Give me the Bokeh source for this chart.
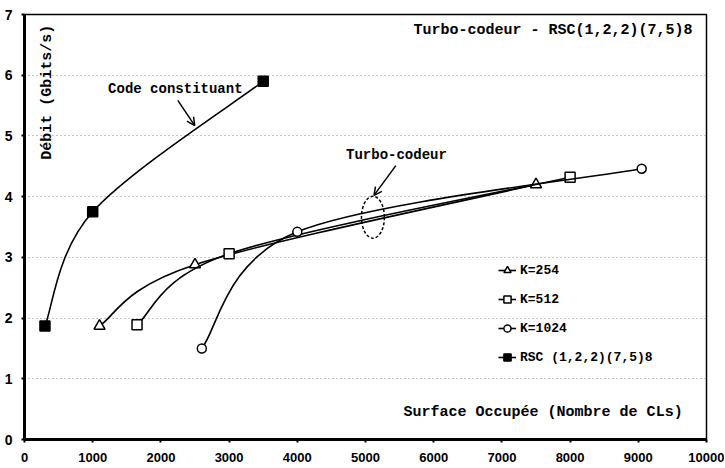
import math
from bokeh.plotting import figure
from bokeh.models import (Range1d, FixedTicker, Label, Arrow, OpenHead,
                          Legend, LegendItem)
from bokeh.embed import file_html
from bokeh.resources import INLINE

# ---- data ----
k254_x = [1100, 2500, 7500]
k254_y = [1.87, 2.88, 4.20]

k512_x = [1650, 3000, 8000]
k512_y = [1.89, 3.06, 4.32]

k1024_x = [2600, 4000, 9050]
k1024_y = [1.50, 3.42, 4.46]

rsc_x = [300, 1000, 3500]
rsc_y = [1.87, 3.75, 5.90]

x_ticks = [0, 1000, 2000, 3000, 4000, 5000, 6000, 7000, 8000, 9000, 10000]
y_ticks = [0, 1, 2, 3, 4, 5, 6, 7]

series_labels = ["K=254", "K=512", "K=1024", "RSC (1,2,2)(7,5)8"]

MONO = "Liberation Mono"
SANS = "Liberation Sans"


def smooth_segments(xs, ys):
    """Catmull-Rom style cubic Bezier control points (Excel-like smoothing)."""
    n = len(xs)
    px = [xs[0]] + list(xs) + [xs[-1]]
    py = [ys[0]] + list(ys) + [ys[-1]]
    seg = dict(x0=[], y0=[], x1=[], y1=[], cx0=[], cy0=[], cx1=[], cy1=[])
    for i in range(n - 1):
        j = i + 1
        seg["x0"].append(px[j]); seg["y0"].append(py[j])
        seg["x1"].append(px[j + 1]); seg["y1"].append(py[j + 1])
        seg["cx0"].append(px[j] + (px[j + 1] - px[j - 1]) / 6.0)
        seg["cy0"].append(py[j] + (py[j + 1] - py[j - 1]) / 6.0)
        seg["cx1"].append(px[j + 1] - (px[j + 2] - px[j]) / 6.0)
        seg["cy1"].append(py[j + 1] - (py[j + 2] - py[j]) / 6.0)
    return seg


p = figure(width=724, height=467, output_backend="svg", toolbar_location=None,
           x_range=Range1d(0, 10000), y_range=Range1d(0, 7),
           min_border_left=24, min_border_right=18, min_border_top=14,
           min_border_bottom=28, background_fill_color="white",
           border_fill_color="white")

p.outline_line_color = "black"
p.outline_line_width = 1.5
p.xgrid.visible = False
p.ygrid.grid_line_color = "#8a8a8a"
p.ygrid.grid_line_dash = "1 3"
p.ygrid.grid_line_width = 1

p.xaxis.ticker = FixedTicker(ticks=x_ticks)
p.yaxis.ticker = FixedTicker(ticks=y_ticks)
for ax in (p.xaxis[0], p.yaxis[0]):
    ax.axis_line_width = 3
    ax.axis_line_color = "black"
    ax.major_tick_in = 0
    ax.major_tick_out = 3
    ax.major_tick_line_width = 2
    ax.minor_tick_line_color = None
    ax.major_label_text_font = SANS
    ax.major_label_text_font_style = "bold"
    ax.major_label_text_color = "black"
p.xaxis.major_label_text_font_size = "13px"
p.xaxis.major_label_standoff = 10
p.yaxis.major_label_text_font_size = "14px"
p.yaxis.major_label_standoff = 9

series = [
    (k254_x, k254_y, "triangle", "white", 11),
    (k512_x, k512_y, "square", "white", 10),
    (k1024_x, k1024_y, "circle", "white", 9),
    (rsc_x, rsc_y, "square", "black", 10),
]

items = []
for (xs, ys, mk, fill, sz), lab in zip(series, series_labels):
    seg = smooth_segments(xs, ys)
    bz = p.bezier(line_color="black", line_width=1.6, **seg)
    sc = p.scatter(xs, ys, marker=mk, size=sz, fill_color=fill,
                   line_color="black", line_width=1.5)
    items.append(LegendItem(label=lab, renderers=[bz, sc]))

legend = Legend(items=items, location=(474, 72), padding=0, spacing=9,
                glyph_height=20, label_height=20, glyph_width=18,
                label_standoff=4, border_line_alpha=0,
                background_fill_alpha=0,
                label_text_font=MONO, label_text_font_style="bold",
                label_text_font_size="13px", label_text_color="black")
p.add_layout(legend, "center")


def lab(x, y, text, size, align="left", angle=0.0):
    p.add_layout(Label(x=x, y=y, text=text, text_font=MONO,
                       text_font_style="bold", text_font_size=size,
                       text_align=align, text_baseline="middle",
                       text_color="black", angle=angle))


lab(9796, 6.74, "Turbo-codeur - RSC(1,2,2)(7,5)8", "15px", align="right")
lab(1226, 5.77, "Code constituant", "14px")
lab(4715, 4.68, "Turbo-codeur", "14px")
lab(9650, 0.445, "Surface Occupée (Nombre de CLs)", "15px", align="right")
lab(336, 5.72, "Débit (Gbits/s)", "15px", align="center", angle=math.pi / 2)

p.add_layout(Arrow(x_start=2248, y_start=5.585, x_end=2496, y_end=5.17,
                   line_color="black", line_width=1.5,
                   end=OpenHead(size=8, line_width=1.5, line_color="black")))
p.add_layout(Arrow(x_start=5445, y_start=4.51, x_end=5124, y_end=4.02,
                   line_color="black", line_width=1.5,
                   end=OpenHead(size=8, line_width=1.5, line_color="black")))

p.ellipse(x=[5109], y=[3.66], width=[336], height=[0.69], fill_alpha=0,
          line_color="black", line_width=1.5, line_dash="3 2")

open("out.html", "w").write(file_html(p, INLINE))
